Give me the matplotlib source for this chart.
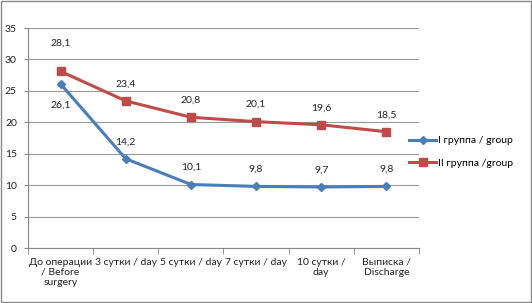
import numpy as np
import matplotlib.pyplot as plt
from matplotlib.patches import Rectangle

plt.rcParams['font.family'] = ['Lato', 'DejaVu Sans']

#categories and values
categories = ['До операции\n/ Before\nsurgery', '3 сутки / day', '5 сутки / day',
              '7 сутки / day', '10 сутки /\nday', 'Выписка /\nDischarge']
group1 = [26.1, 14.2, 10.1, 9.8, 9.7, 9.8]
group2 = [28.1, 23.4, 20.8, 20.1, 19.6, 18.5]
group1_name = 'I группа / group'
group2_name = 'II группа /group'

blue = '#4a7ebb'
red = '#be4b48'

fig = plt.figure(figsize=(5.32, 3.03), dpi=100)
ax = fig.add_axes([28/532, 1 - 248/303, (419 - 28)/532, (248 - 28)/303])

x = np.arange(len(categories))
ax.plot(x, group1, color=blue, lw=2.2, marker='D', ms=4.5, label=group1_name, zorder=3)
ax.plot(x, group2, color=red, lw=2.2, marker='s', ms=5.5, label=group2_name, zorder=3)

#data labels
fs = 7.5
for i, v in enumerate(group2):
    dy = 17 if i == 0 else 9
    ax.annotate(f'{v}'.replace('.', ','), (x[i], v), xytext=(0, dy), textcoords='offset points',
                ha='center', va='bottom', fontsize=fs, color='#222222')
for i, v in enumerate(group1):
    if i == 0:
        dy, va = -12, 'top'
    else:
        dy, va = 9, 'bottom'
    ax.annotate(f'{v}'.replace('.', ','), (x[i], v), xytext=(0, dy), textcoords='offset points',
                ha='center', va=va, fontsize=fs, color='#222222')

ax.set_xlim(-0.5, len(categories) - 0.5)
ax.set_ylim(0, 35)
ax.set_yticks(range(0, 36, 5))
ax.set_xticks(x)
ax.set_xticklabels(categories, fontsize=fs, color='#222222', linespacing=1.15)
ax.set_xticks(np.arange(-0.5, len(categories)), minor=True)
ax.tick_params(axis='x', which='major', length=0, pad=7)
ax.tick_params(axis='x', which='minor', length=4, color='#888888')
ax.tick_params(axis='y', length=3, color='#888888', labelsize=fs, labelcolor='#222222', pad=5)
ax.grid(axis='y', color='#999999', lw=0.8)
ax.set_axisbelow(True)
for s in ['top', 'right']:
    ax.spines[s].set_visible(False)
for s in ['left', 'bottom']:
    ax.spines[s].set_color('#888888')

fig.legend(loc='center left', bbox_to_anchor=(405/532, 1 - 152/303), frameon=False, fontsize=fs,
           handlelength=2.6, labelspacing=1.3, handletextpad=0.2, borderaxespad=0.0)

#outer border
fig.patches.append(Rectangle((0.002, 0.003), 0.996, 0.994, transform=fig.transFigure,
                             fill=False, edgecolor='#888888', lw=1))

fig.savefig('out.png', dpi=100)
